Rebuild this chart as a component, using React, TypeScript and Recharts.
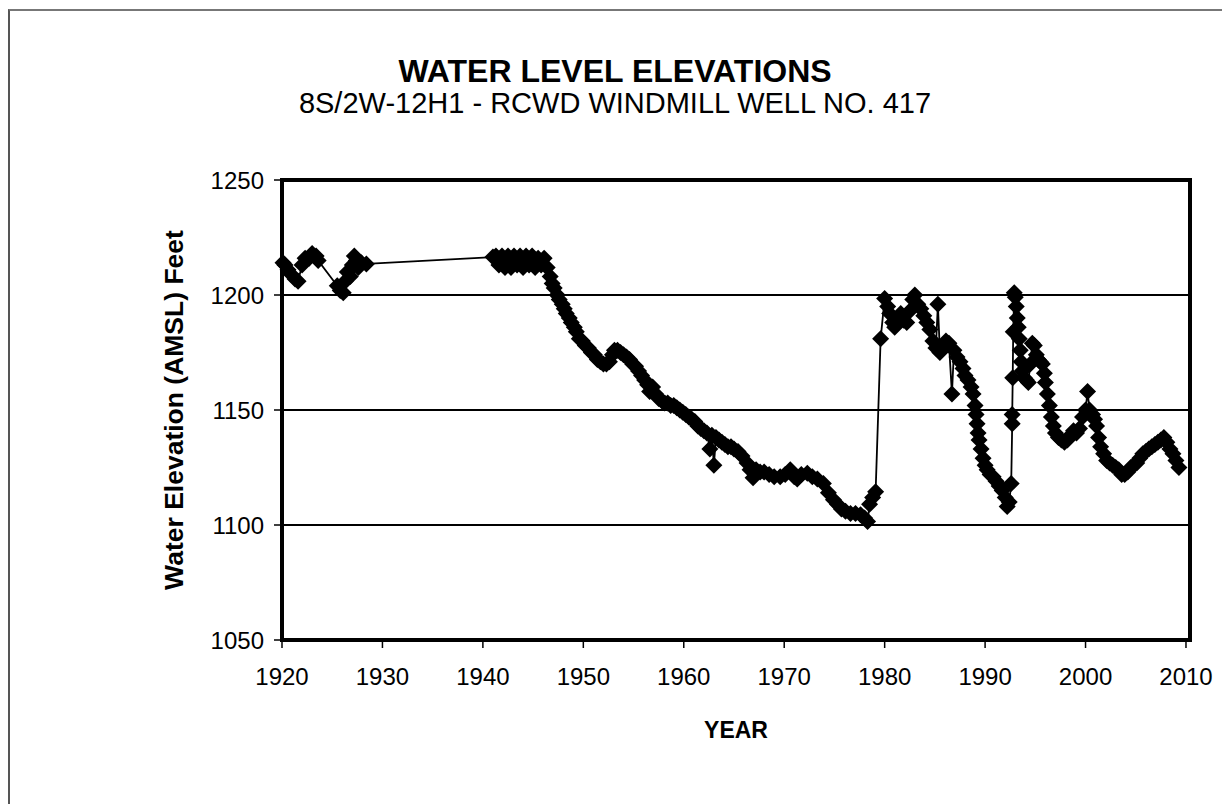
import React from 'react'
import {
  LineChart,
  Line,
  XAxis,
  YAxis,
  CartesianGrid,
  ReferenceArea,
} from 'recharts'

const years = [
  1920.1, 1920.3, 1920.6, 1920.9, 1921.3, 1921.6, 1922.0, 1922.3, 1922.7, 1923.0, 1923.4, 1923.6,
  1925.5, 1925.8, 1926.1, 1926.3, 1926.5, 1926.8, 1927.0, 1927.2, 1927.4, 1927.6, 1927.9, 1928.4,
  1941.0, 1941.3, 1941.6, 1941.9, 1942.2, 1942.5, 1942.8, 1943.1, 1943.4, 1943.7, 1944.0, 1944.3,
  1944.6, 1944.9, 1945.2, 1945.5, 1945.8, 1946.1, 1946.4,
  1946.7, 1946.9, 1947.1, 1947.4, 1947.6, 1947.9, 1948.1, 1948.3, 1948.6, 1948.8, 1949.1, 1949.3,
  1949.6, 1949.9, 1950.2, 1950.5, 1950.8, 1951.1, 1951.4, 1951.7, 1952.0, 1952.3, 1952.6, 1952.9,
  1953.1, 1953.4, 1953.7, 1954.0, 1954.3, 1954.6, 1954.9, 1955.2, 1955.5, 1955.8, 1956.1, 1956.4,
  1956.6, 1956.9, 1957.2, 1957.5, 1957.8, 1958.1, 1958.4, 1958.7, 1959.0, 1959.3, 1959.6, 1959.9,
  1960.2, 1960.5, 1960.8, 1961.1, 1961.4, 1961.7, 1962.0, 1962.3, 1962.6, 1962.8, 1963.0, 1963.2,
  1963.5, 1963.8, 1964.1, 1964.4, 1964.7, 1965.0, 1965.4, 1965.8,
  1966.3, 1966.6, 1966.9, 1967.2, 1967.6, 1968.0, 1968.5, 1969.0, 1969.6, 1970.1, 1970.6, 1971.0,
  1971.3, 1971.7, 1972.3, 1972.8, 1973.3, 1973.9, 1974.4, 1974.9, 1975.3, 1975.7, 1976.1, 1976.6,
  1977.1, 1977.6, 1978.0, 1978.3, 1978.5, 1978.8, 1979.1, 1979.6, 1980.0,
  1980.3, 1980.5, 1980.8, 1981.0, 1981.3, 1981.6, 1981.9, 1982.2, 1982.5, 1982.8, 1983.0, 1983.3,
  1983.6, 1983.9, 1984.2, 1984.5, 1984.8, 1985.1, 1985.3, 1985.5, 1985.8, 1986.1, 1986.4, 1986.7,
  1986.9, 1987.2, 1987.5, 1987.8, 1988.0, 1988.3, 1988.6, 1988.8, 1989.0, 1989.1, 1989.2, 1989.3,
  1989.4, 1989.6, 1989.8, 1990.0, 1990.2, 1990.5, 1990.8, 1991.1, 1991.4, 1991.7, 1992.0, 1992.2,
  1992.4, 1992.6, 1992.7, 1992.7, 1992.75, 1992.8, 1992.9,
  1993.0, 1993.1, 1993.2, 1993.3, 1993.4, 1993.5, 1993.6, 1993.7, 1993.9, 1994.1, 1994.3, 1994.5,
  1994.7, 1994.9, 1995.1, 1995.3, 1995.5, 1995.7, 1995.9, 1996.0, 1996.2, 1996.4, 1996.6, 1996.8,
  1997.0, 1997.3, 1997.6, 1997.9, 1998.2, 1998.5, 1998.8, 1999.1, 1999.4, 1999.7, 2000.0, 2000.2,
  2000.4, 2000.7, 2000.9, 2001.1, 2001.3, 2001.5, 2001.8, 2002.1, 2002.4, 2002.7, 2003.0, 2003.3,
  2003.6, 2003.9, 2004.2, 2004.5, 2004.8, 2005.1, 2005.4, 2005.7, 2006.0, 2006.3, 2006.6, 2006.9,
  2007.2, 2007.5, 2007.8, 2008.1, 2008.4, 2008.7, 2009.0, 2009.3,
]

const levels = [
  1214, 1213, 1211, 1209, 1207, 1206, 1213, 1216, 1216, 1218, 1217, 1215,
  1204, 1202, 1201, 1206, 1210, 1208, 1213, 1217, 1215, 1212, 1214, 1213.5,
  1216.5, 1217, 1213, 1217, 1212, 1217, 1212, 1217, 1213, 1217, 1212, 1217,
  1213, 1217, 1212, 1216, 1213, 1216, 1212,
  1208, 1205, 1203, 1200, 1198, 1196, 1194, 1192, 1190, 1188, 1186, 1184,
  1181, 1180, 1178, 1177, 1175, 1174, 1172, 1171, 1170, 1170, 1171, 1174,
  1176, 1176, 1175, 1174, 1173, 1172, 1170, 1169, 1167, 1165, 1163, 1161,
  1158, 1160, 1157, 1155, 1154, 1153, 1153, 1152, 1152, 1151, 1150, 1149,
  1148, 1147, 1146, 1145, 1143, 1142, 1141, 1140, 1133, 1139, 1126, 1138,
  1137, 1136, 1135, 1134, 1134, 1133, 1132, 1130,
  1127, 1124, 1120.5, 1124, 1123, 1123, 1122, 1121, 1121, 1122, 1124, 1121,
  1120, 1122, 1122.5, 1121, 1120, 1118, 1114, 1111, 1109, 1107, 1106, 1105,
  1105, 1104.5, 1103, 1101.5, 1109, 1112, 1114.5, 1181, 1198.5,
  1195, 1192, 1188, 1186, 1190, 1192, 1189, 1188, 1193, 1198, 1200, 1196,
  1194, 1191, 1188, 1185, 1180, 1177, 1196, 1175, 1178, 1180, 1179, 1157,
  1176, 1173, 1171, 1168, 1165, 1163, 1160, 1157, 1152, 1148, 1144, 1140,
  1137, 1133, 1129, 1126, 1124, 1122, 1121, 1119, 1117, 1115, 1112, 1108,
  1110, 1118, 1144, 1148, 1164, 1184, 1201,
  1199, 1195, 1190, 1186, 1181, 1176, 1171, 1167, 1164, 1163, 1162, 1170,
  1179, 1178, 1174, 1172, 1171, 1170, 1166, 1162, 1157, 1152, 1147, 1143,
  1140, 1138, 1137, 1136, 1137, 1139, 1141, 1140, 1142, 1147, 1150, 1158,
  1150, 1148, 1146, 1143, 1138, 1134, 1131, 1128, 1127, 1126, 1125, 1124,
  1122, 1122, 1123, 1125, 1126, 1127, 1129, 1131, 1132, 1133, 1134, 1135,
  1136, 1137, 1138, 1136, 1133, 1131, 1128, 1125,
]

const yearTicks = [1920, 1930, 1940, 1950, 1960, 1970, 1980, 1990, 2000, 2010]
const levelTicks = [1050, 1100, 1150, 1200, 1250]

const data = years.map((year, i) => ({ year, level: levels[i] }))

const FONT = '"Liberation Sans", Arial, sans-serif'

// filled black diamond marker
const Diamond = (props: any) => {
  const { cx, cy, index } = props
  if (cx == null || cy == null) return <g key={index} />
  const r = 8.5
  return (
    <path
      key={index}
      d={`M${cx},${cy - r}L${cx + r},${cy}L${cx},${cy + r}L${cx - r},${cy}Z`}
      fill="#000"
    />
  )
}

export default function App() {
  return (
    <div style={{ position: 'relative', width: 1214, height: 796, overflow: 'hidden', background: '#fff', fontFamily: FONT }}>
      <div
        style={{
          position: 'absolute',
          left: 0,
          top: 1,
          width: 1300,
          height: 900,
          borderTop: '2px solid #777',
          borderLeft: '2px solid #555',
        }}
      />
      <div style={{ position: 'absolute', left: 0, width: 1214, top: 45, textAlign: 'center', fontWeight: 'bold', fontSize: 32, color: '#000' }}>
        WATER LEVEL ELEVATIONS
      </div>
      <div style={{ position: 'absolute', left: 0, width: 1214, top: 79, textAlign: 'center', fontSize: 29, color: '#000' }}>
        8S/2W-12H1 - RCWD WINDMILL WELL NO. 417
      </div>
      <LineChart
        width={1214}
        height={796}
        data={data}
        margin={{ top: 172, right: 32, left: 154, bottom: 104 }}
        style={{ position: 'absolute', left: 0, top: 0 }}
      >
        <CartesianGrid horizontal vertical={false} stroke="#000" strokeWidth={2} strokeOpacity={1} />
        <XAxis
          type="number"
          dataKey="year"
          domain={[1920, 2010.4]}
          ticks={yearTicks}
          height={60}
          tickSize={8}
          tickMargin={20}
          axisLine={false}
          tickLine={{ stroke: '#000', strokeWidth: 1.5 }}
          tick={{ fontSize: 24, fill: '#000', fontFamily: FONT }}
          label={{ value: 'YEAR', position: 'insideBottom', offset: -38, style: { fontSize: 23, fontWeight: 'bold', fill: '#000', fontFamily: FONT } }}
        />
        <YAxis
          type="number"
          dataKey="level"
          domain={[1050, 1250]}
          ticks={levelTicks}
          width={120}
          tickSize={8}
          tickMargin={10}
          axisLine={false}
          tickLine={{ stroke: '#000', strokeWidth: 1.5 }}
          tick={{ fontSize: 24, fill: '#000', fontFamily: FONT }}
          label={{
            value: 'Water Elevation (AMSL) Feet',
            angle: -90,
            position: 'insideLeft',
            offset: 12,
            style: { textAnchor: 'middle', fontSize: 26.5, fontWeight: 'bold', fill: '#000', fontFamily: FONT },
          }}
        />
        <ReferenceArea
          x1={1920}
          x2={2010.4}
          y1={1050}
          y2={1250}
          fill="none"
          stroke="#000"
          strokeWidth={4}
          ifOverflow="visible"
        />
        <Line
          type="linear"
          dataKey="level"
          stroke="#000"
          strokeWidth={1.8}
          dot={Diamond}
          activeDot={false}
          isAnimationActive={false}
        />
      </LineChart>
    </div>
  )
}
